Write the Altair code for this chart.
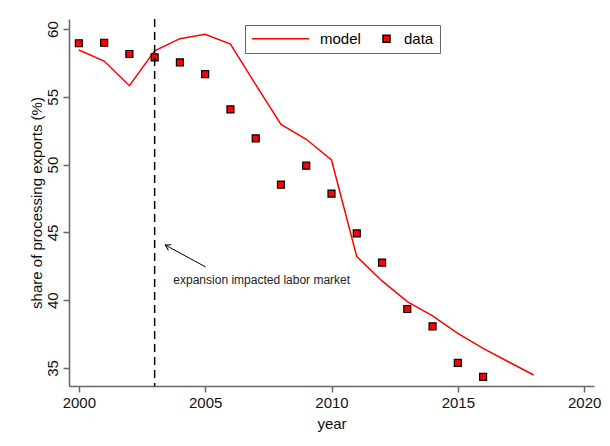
import altair as alt
import pandas as pd

# ---- data ----
years_data = [2000, 2001, 2002, 2003, 2004, 2005, 2006, 2007, 2008, 2009,
              2010, 2011, 2012, 2013, 2014, 2015, 2016]
share_data = [58.95, 58.99, 58.16, 57.91, 57.54, 56.68, 54.08, 51.94, 48.52, 49.92,
              47.86, 44.93, 42.77, 39.35, 38.07, 35.37, 34.34]

years_model = [2000, 2001, 2002, 2003, 2004, 2005, 2006, 2007, 2008, 2009,
               2010, 2011, 2012, 2013, 2014, 2015, 2016, 2017, 2018]
share_model = [58.45, 57.64, 55.82, 58.40, 59.29, 59.61, 58.89, 55.90, 52.97, 51.87,
               50.34, 43.21, 41.42, 39.89, 38.84, 37.55, 36.45, 35.46, 34.48]

series_names = ["model", "data"]
x_ticks = [2000, 2005, 2010, 2015, 2020]
y_ticks = [35, 40, 45, 50, 55, 60]

event_year = [2003]
note_text = ["expansion impacted labor market"]
note_x = [2003.74]
note_y = [41.49]
arrow_tail_x = [2005.02]
arrow_tail_y = [42.45]
arrow_tip_x = [2003.42]
arrow_tip_y = [44.07]

FONT = "Liberation Sans"

df_data = pd.DataFrame({"year": years_data, "share": share_data, "series": "data"})
df_model = pd.DataFrame({"year": years_model, "share": share_model, "series": "model"})
df_event = pd.DataFrame({"year": event_year})
df_note = pd.DataFrame({"x": note_x, "y": note_y, "text": note_text})
df_arrow = pd.DataFrame({"x": arrow_tail_x, "y": arrow_tail_y,
                         "x2": arrow_tip_x, "y2": arrow_tip_y})

xscale = alt.Scale(domain=[1999.61, 2020.39], nice=False, zero=False)
yscale = alt.Scale(domain=[33.67, 60.74], nice=False, zero=False)

xaxis = alt.Axis(values=x_ticks, format="d", title="year", grid=False,
                 labelFontSize=15, titleFontSize=15, titleFontWeight="normal",
                 tickSize=6, labelPadding=3, titlePadding=6)
yaxis = alt.Axis(values=y_ticks, format="d", title="share of processing exports (%)",
                 grid=False, labelFontSize=15, titleFontSize=15,
                 titleFontWeight="normal", labelAngle=270, labelAlign="center",
                 labelBaseline="bottom", tickSize=6, labelPadding=3, titlePadding=1)

X = alt.X("year:Q", scale=xscale, axis=xaxis)
Y = alt.Y("share:Q", scale=yscale, axis=yaxis)

leg = alt.Legend(orient="none", legendX=176, legendY=6, direction="horizontal",
                 title=None, strokeColor="#666666", fillColor="white", padding=6,
                 labelFontSize=15, labelFont=FONT, labelColor="black",
                 labelOffset=10, columnPadding=18, symbolStrokeWidth=1.5,
                 clipHeight=15)

line = alt.Chart(df_model).mark_line(color="red", strokeWidth=1.5).encode(x=X, y=Y)

points = alt.Chart(df_data).mark_point(filled=True, opacity=1, strokeWidth=1.2).encode(
    x=X, y=Y,
    shape=alt.Shape("series:N", scale=alt.Scale(domain=series_names, range=["stroke", "square"]), legend=leg),
    fill=alt.Fill("series:N", scale=alt.Scale(domain=series_names, range=["red", "red"]), legend=leg),
    stroke=alt.Stroke("series:N", scale=alt.Scale(domain=series_names, range=["red", "black"]), legend=leg),
    size=alt.Size("series:N", scale=alt.Scale(domain=series_names, range=[3249, 49]), legend=leg),
)

vline = alt.Chart(df_event).mark_rule(color="black", strokeWidth=1.5, strokeDash=[8, 5]).encode(
    x=alt.X("year:Q", scale=xscale))

arrow_line = alt.Chart(df_arrow).mark_rule(color="black", strokeWidth=1).encode(
    x=alt.X("x:Q", scale=xscale), y=alt.Y("y:Q", scale=yscale),
    x2="x2:Q", y2="y2:Q")

arrow_head = alt.Chart(df_arrow).mark_point(
    shape="M -1 -0.6 L 0 0 L -1 0.6", filled=False, color="black",
    strokeWidth=1, size=110, angle=208, opacity=1).encode(
    x=alt.X("x2:Q", scale=xscale), y=alt.Y("y2:Q", scale=yscale))

note = alt.Chart(df_note).mark_text(align="left", baseline="middle", fontSize=12,
                                    font=FONT, color="#222222").encode(
    x=alt.X("x:Q", scale=xscale), y=alt.Y("y:Q", scale=yscale), text="text:N")

chart = alt.layer(line, points, vline, arrow_line, arrow_head, note).properties(
    width=525, height=367,
    autosize=alt.AutoSizeParams(type="none"),
    padding={"left": 61, "top": 11, "right": 8, "bottom": 47},
    background="white",
).configure_view(stroke=None).configure_axis(
    labelFont=FONT, titleFont=FONT, labelColor="#111111", titleColor="#111111",
    domainColor="#666666", domainWidth=1.5, tickColor="#666666", tickWidth=1.5,
)

chart.save("out.html", embed_options={"renderer": "svg", "actions": False})
